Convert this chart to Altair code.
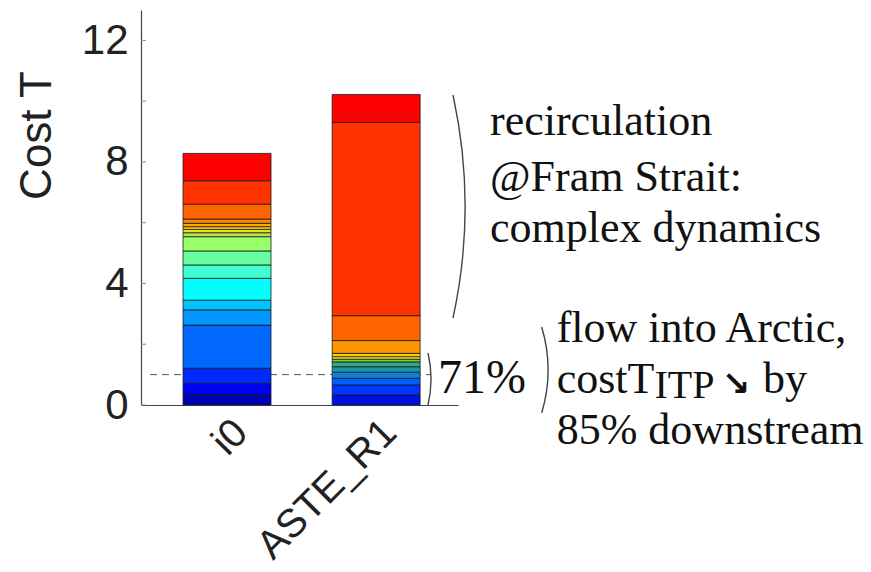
import math
import altair as alt
import pandas as pd

# Stacked contributions to Cost T (bottom segment first)
categories = ["i0", "ASTE_R1"]

i0_parts = [0.33, 0.38, 0.50, 1.42, 0.50, 0.32, 0.72, 0.44, 0.46, 0.47,
            0.13, 0.11, 0.09, 0.11, 0.14, 0.49, 0.77, 0.90]
i0_colors = ["#0000B4", "#0000F0", "#0028FF", "#0068FF", "#0098FF", "#00C4FF",
             "#00FFFF", "#40FFD0", "#68FFA0", "#98FF68", "#B8E848", "#E0E020",
             "#FFC800", "#FFA800", "#FF8800", "#FF6400", "#FF3200", "#FF0000"]

aste_parts = [0.33, 0.33, 0.22, 0.20, 0.18, 0.16, 0.09, 0.08, 0.11, 0.42,
              0.82, 6.36, 0.92]
aste_colors = ["#0010E0", "#0034FF", "#0060FF", "#0A84D8", "#1A9AA8", "#2EAA80",
               "#90CC40", "#FFFF00", "#FFCC00", "#FF9600", "#FF6400", "#FF3200",
               "#FF0000"]

y_ticks = [0, 4, 8, 12]
minor_ticks = [0, 2, 4, 6, 8, 10, 12]
split_level = 1.0

rows = []
for cat, parts, cols in [(categories[0], i0_parts, i0_colors),
                         (categories[1], aste_parts, aste_colors)]:
    for k, (v, c) in enumerate(zip(parts, cols)):
        rows.append({"run": cat, "seg": k, "value": v, "hex": c})
bars_df = pd.DataFrame(rows)

W, H = 317, 395
Y_MAX = 13.0
SERIF = "Liberation Serif"
SANS = "Liberation Sans"

y_scale = alt.Scale(domain=[0, Y_MAX], nice=False, zero=True)

bars = alt.Chart(bars_df).mark_bar(stroke="#1a1a1a", strokeWidth=0.8).encode(
    x=alt.X("run:N", sort=categories,
            scale=alt.Scale(paddingInner=0.41, paddingOuter=0.268, align=0.526),
            axis=alt.Axis(title=None, labelAngle=-45, labelAlign="right",
                          labelBaseline="top", labelFontSize=40, labelFont=SANS,
                          labelColor="#222", labelPadding=7, tickSize=0,
                          domainColor="#444", domainWidth=1.2)),
    y=alt.Y("value:Q", stack="zero", scale=y_scale,
            axis=alt.Axis(title="Cost T", values=y_ticks, grid=False, tickSize=0,
                          labelFontSize=42, labelFont=SANS, labelColor="#222",
                          labelPadding=13, domainColor="#444", domainWidth=1.2,
                          titleFontSize=44, titleFont=SANS, titleFontWeight="normal",
                          titleColor="#222", titleX=-104, titleY=125,
                          titleAlign="center", titleBaseline="middle")),
    order=alt.Order("seg:Q"),
    color=alt.Color("hex:N", scale=None),
)

# dashed reference level behind the bars
dash = alt.Chart(pd.DataFrame({"lvl": [split_level]})).mark_rule(
    color="#555", strokeDash=[7, 5], strokeWidth=1
).encode(y=alt.Y("lvl:Q", scale=y_scale), x=alt.value(9), x2=alt.value(289))

# small inward ticks on the y axis
ticks = alt.Chart(pd.DataFrame({"t": minor_ticks})).mark_rule(
    color="#888", strokeWidth=1
).encode(y=alt.Y("t:Q", scale=y_scale), x=alt.value(0), x2=alt.value(5))


def bracket(cx, cy, r, half):
    return alt.Chart(pd.DataFrame({"k": [0]})).mark_arc(
        radius=r + 0.7, radius2=r - 0.7,
        theta=math.pi / 2 - half, theta2=math.pi / 2 + half,
        color="#444",
    ).encode(x=alt.value(cx), y=alt.value(cy))


br_big = bracket(-200, 196.5, 524, 0.2144)
br_mid = bracket(175.8, 369, 114.2, 0.2297)
br_low = bracket(257.1, 360, 149.9, 0.291)


def label(txt, x, y, size, font=SERIF, weight="normal", baseline="alphabetic",
          align="left"):
    return alt.Chart(pd.DataFrame({"k": [0]})).mark_text(
        text=txt, font=font, fontSize=size, fontWeight=weight, color="#111",
        align=align, baseline=baseline,
    ).encode(x=alt.value(x), y=alt.value(y))


texts = [
    label("recirculation", 349, 125, 44),
    label("@Fram Strait:", 349, 181, 44),
    label("complex dynamics", 349, 232, 44),
    label("71%", 297, 383, 48),
    label("flow into Arctic,", 415.7, 331.5, 44),
    label("costT", 415.7, 382.5, 44),
    label("ITP", 513.5, 388, 40),
    label("\u2198", 595, 375, 34, font="DejaVu Sans", weight="bold",
          baseline="middle", align="center"),
    label("by", 622, 382.5, 44),
    label("85% downstream", 415.7, 433.5, 44),
]

chart = alt.layer(dash, bars, ticks, br_big, br_mid, br_low, *texts).properties(
    width=W, height=H,
    padding={"left": 141, "top": 10, "right": 871 - 141 - W, "bottom": 572 - 10 - H},
    autosize=alt.AutoSizeParams(type="none"),
    background="white",
).configure_view(stroke=None)

chart.save("out.html", embed_options={"renderer": "svg", "actions": False})
